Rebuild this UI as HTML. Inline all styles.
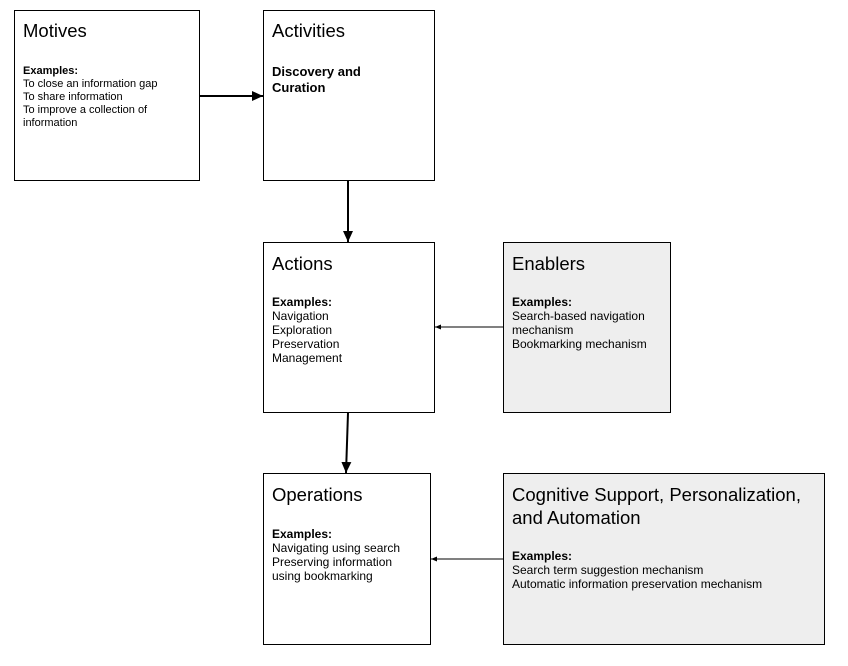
<!DOCTYPE html>
<html><head><meta charset="utf-8"><style>
html,body{margin:0;padding:0;background:#fff;}
svg{display:block;font-family:"Liberation Sans",Arial,sans-serif;}
.t{font-size:18.5px;fill:#000}
.b{font-size:12px;font-weight:bold;fill:#000}
.n{font-size:12px;fill:#000}
.bm{font-size:11px;font-weight:bold;fill:#000}
.nm{font-size:11px;fill:#000}
</style></head><body>
<svg width="848" height="666" viewBox="0 0 848 666" xmlns="http://www.w3.org/2000/svg">
<defs>
<marker id="a" markerWidth="11" markerHeight="10" refX="11" refY="5" orient="auto" markerUnits="userSpaceOnUse"><path d="M0,0 L11,5 L0,10 Z" fill="#000"/></marker>
<marker id="s" markerWidth="6" markerHeight="5" refX="6" refY="2.5" orient="auto" markerUnits="userSpaceOnUse"><path d="M0,0 L6,2.5 L0,5 Z" fill="#000"/></marker>
</defs>
<g stroke="#000" stroke-width="1">
<rect x="14.5" y="10.5" width="185" height="170" fill="#fff"/>
<rect x="263.5" y="10.5" width="171" height="170" fill="#fff"/>
<rect x="263.5" y="242.5" width="171" height="170" fill="#fff"/>
<rect x="503.5" y="242.5" width="167" height="170" fill="#eeeeee"/>
<rect x="263.5" y="473.5" width="167" height="171" fill="#fff"/>
<rect x="503.5" y="473.5" width="321" height="171" fill="#eeeeee"/>
</g>
<g stroke="#000" fill="none">
<line x1="200" y1="96" x2="263" y2="96" stroke-width="2" marker-end="url(#a)"/>
<line x1="348" y1="181" x2="348" y2="242" stroke-width="2" marker-end="url(#a)"/>
<line x1="348" y1="413" x2="346" y2="473" stroke-width="2" marker-end="url(#a)"/>
<line x1="503" y1="327" x2="435" y2="327" stroke-width="1" marker-end="url(#s)"/>
<line x1="503" y1="559" x2="431" y2="559" stroke-width="1" marker-end="url(#s)"/>
</g>
<text class="t" x="23" y="37">Motives</text>
<text class="bm" x="23" y="74">Examples:</text>
<text class="nm" x="23" y="87">To close an information gap</text>
<text class="nm" x="23" y="100">To share information</text>
<text class="nm" x="23" y="113">To improve a collection of</text>
<text class="nm" x="23" y="126">information</text>

<text class="t" x="272" y="37">Activities</text>
<text x="272" y="76" style="font-size:13px;font-weight:bold">Discovery and</text>
<text x="272" y="92" style="font-size:13px;font-weight:bold">Curation</text>

<text class="t" x="272" y="270">Actions</text>
<text class="b" x="272" y="306">Examples:</text>
<text class="n" x="272" y="320">Navigation</text>
<text class="n" x="272" y="334">Exploration</text>
<text class="n" x="272" y="348">Preservation</text>
<text class="n" x="272" y="362">Management</text>

<text class="t" x="512" y="270">Enablers</text>
<text class="b" x="512" y="306">Examples:</text>
<text class="n" x="512" y="320">Search-based navigation</text>
<text class="n" x="512" y="334">mechanism</text>
<text class="n" x="512" y="348">Bookmarking mechanism</text>

<text class="t" x="272" y="501">Operations</text>
<text class="b" x="272" y="538">Examples:</text>
<text class="n" x="272" y="552">Navigating using search</text>
<text class="n" x="272" y="566">Preserving information</text>
<text class="n" x="272" y="580">using bookmarking</text>

<text class="t" x="512" y="501">Cognitive Support, Personalization,</text>
<text class="t" x="512" y="524">and Automation</text>
<text class="b" x="512" y="560">Examples:</text>
<text class="n" x="512" y="574">Search term suggestion mechanism</text>
<text class="n" x="512" y="588">Automatic information preservation mechanism</text>
</svg>
</body></html>
